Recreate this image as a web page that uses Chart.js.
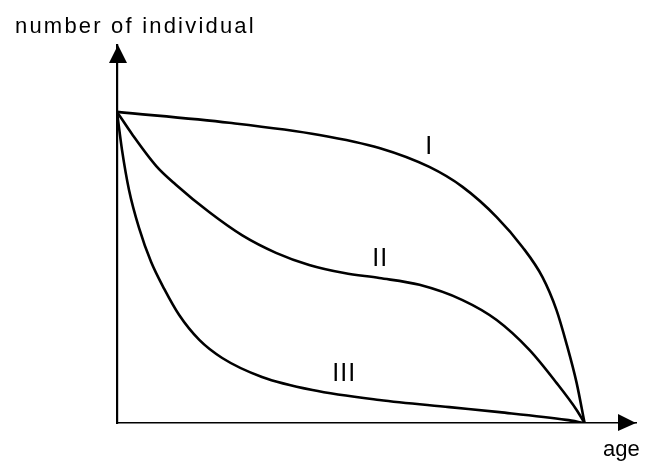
<!DOCTYPE html>
<html>
<head>
<meta charset="utf-8">
<script src="https://cdn.jsdelivr.net/npm/chart.js@4"></script>
<style>
  html, body { margin: 0; padding: 0; background: #fff; }
  #wrap { width: 647px; height: 462px; }
</style>
</head>
<body>
<div id="wrap"><canvas id="myChart"></canvas></div>
<script>
// survivorship curves (age 0-100, survivors 0-100)
var ageI   = [0, 24.0, 43.3, 56.1, 66.8, 73.9, 81.2, 86.7, 91.0, 94.0, 96.1, 98.3, 100];
var survI  = [100, 96.5, 92.6, 88.4, 82.3, 75.9, 66.2, 56.6, 46.9, 36.3, 25.7, 12.9, 0];
var ageII  = [0, 3.2, 8.4, 12.6, 19.7, 26.8, 34.0, 41.1, 48.6, 56.1, 64.7, 73.9, 81.2, 88.2, 94.0, 98.3, 100];
var survII = [100, 92.9, 82.6, 76.6, 67.8, 60.3, 54.7, 50.8, 48.2, 46.6, 44.4, 39.5, 33.1, 23.5, 12.9, 4.2, 0];
var ageIII  = [0, 1.07, 2.57, 4.71, 7.28, 10.1, 13.3, 17.6, 22.5, 31.0, 41.8, 56.1, 71.1, 81.8, 96.1, 100];
var survIII = [100, 87.8, 74.9, 62.7, 51.8, 43.1, 34.7, 26.7, 20.9, 14.8, 10.6, 7.4, 5.1, 3.5, 1.0, 0];

var curveNames = ['I', 'II', 'III'];
// where each roman numeral sits, in data units
var labelAge  = [66.8, 56.3, 48.6];
var labelSurv = [88.8, 52.6, 15.8];

var yTitle = 'number of individual';
var xTitle = 'age';

function toPoints(xs, ys) {
  return xs.map(function (x, i) { return {x: x, y: ys[i]}; });
}

function lineSet(name, xs, ys) {
  return {
    label: name,
    data: toPoints(xs, ys),
    showLine: true,
    borderColor: '#000',
    backgroundColor: '#000',
    borderWidth: 2.6,
    pointRadius: 0,
    cubicInterpolationMode: 'monotone'
  };
}

// arrows, axis titles and curve names
var decor = {
  id: 'decor',
  afterDraw: function (chart) {
    var c = chart.ctx;
    var xs = chart.scales.x, ys = chart.scales.y;
    var x0 = xs.left, y0 = ys.bottom;
    c.save();
    c.fillStyle = '#000';
    // y arrow
    c.beginPath();
    c.moveTo(x0 + 1, ys.top);
    c.lineTo(x0 - 8, ys.top + 18);
    c.lineTo(x0 + 10, ys.top + 18);
    c.closePath();
    c.fill();
    // x arrow
    c.beginPath();
    c.moveTo(xs.right, y0);
    c.lineTo(xs.right - 18, y0 - 9);
    c.lineTo(xs.right - 18, y0 + 8);
    c.closePath();
    c.fill();

    c.font = '22px "Liberation Sans", Arial, sans-serif';
    c.textBaseline = 'alphabetic';
    c.textAlign = 'left';
    c.letterSpacing = '2.2px';
    c.fillText(yTitle, 15, 33);
    c.letterSpacing = '0px';
    c.fillText(xTitle, 603, 456);

    c.font = '25px "Liberation Sans", Arial, sans-serif';
    c.textAlign = 'center';
    c.textBaseline = 'middle';
    c.letterSpacing = '1px';
    curveNames.forEach(function (n, i) {
      c.fillText(n, xs.getPixelForValue(labelAge[i]), ys.getPixelForValue(labelSurv[i]));
    });
    c.restore();
  }
};

var ctx = document.getElementById('myChart').getContext('2d');
var myChart = new Chart(ctx, {
  type: 'scatter',
  data: {
    datasets: [
      lineSet('I', ageI, survI),
      lineSet('II', ageII, survII),
      lineSet('III', ageIII, survIII)
    ]
  },
  options: {
    responsive: true,
    maintainAspectRatio: false,
    animation: false,
    layout: {
      padding: {left: 117, right: 11, top: 45, bottom: 39}
    },
    scales: {
      x: {
        min: 0,
        max: 111,
        grid: {display: false},
        ticks: {display: false},
        border: {display: true, color: '#000', width: 1.6},
        afterFit: function (s) { s.height = 0; }
      },
      y: {
        min: 0,
        max: 121.5,
        grid: {display: false},
        ticks: {display: false},
        border: {display: true, color: '#000', width: 2.2},
        afterFit: function (s) { s.width = 0; }
      }
    },
    plugins: {
      legend: {display: false},
      tooltip: {enabled: false}
    }
  },
  plugins: [decor]
});
</script>
</body>
</html>
